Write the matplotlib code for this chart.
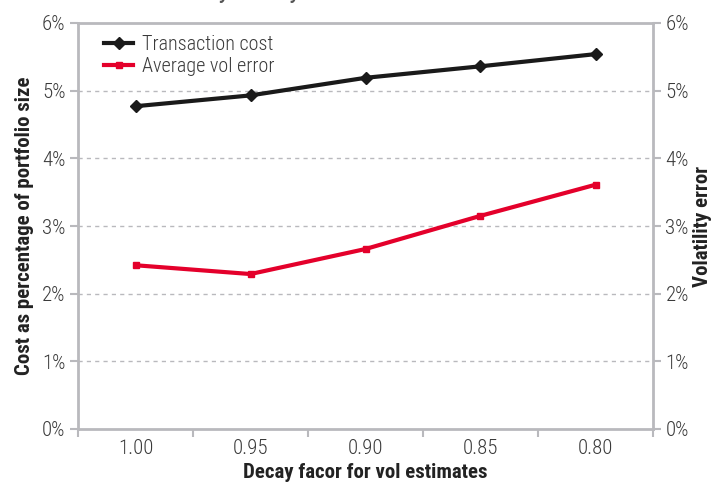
import matplotlib
matplotlib.use("Agg")
import matplotlib.pyplot as plt
from matplotlib.ticker import FixedLocator, PercentFormatter

plt.rcParams['font.family'] = ['Roboto Condensed', 'DejaVu Sans']

decay_labels = ["1.00", "0.95", "0.90", "0.85", "0.80"]
transaction_cost = [4.77, 4.93, 5.19, 5.36, 5.54]
avg_vol_error = [2.42, 2.29, 2.66, 3.15, 3.61]
y_ticks = [0, 1, 2, 3, 4, 5, 6]

grey = "#b9b9bd"
text_col = "#3a3a3a"
label_col = "#222222"

fig = plt.figure(figsize=(7.13, 4.82), dpi=100)
ax = fig.add_axes([78 / 713, 1 - 429 / 482, (653 - 78) / 713, (429 - 23) / 482])

x = list(range(len(decay_labels)))
ax.plot(x, transaction_cost, color="#1a1a1a", lw=3, marker="D", ms=6,
        label="Transaction cost", zorder=3)
ax.plot(x, avg_vol_error, color="#e4002b", lw=3, marker="s", ms=5,
        label="Average vol error", zorder=3)

ax.set_xlim(-0.5, len(decay_labels) - 0.5)
ax.set_ylim(0, 6)
ax.set_xticks(x)
ax.set_xticklabels(decay_labels)
ax.xaxis.set_minor_locator(FixedLocator([i - 0.5 for i in range(len(decay_labels) + 1)]))
ax.tick_params(axis="x", which="major", length=0, pad=7, labelsize=15, labelcolor=text_col)
ax.tick_params(axis="x", which="minor", length=6, width=1.5, color=grey)
for t in ax.get_xticklabels():
    t.set_fontweight("light")

ax.set_yticks(y_ticks)
ax.yaxis.set_major_formatter(PercentFormatter(decimals=0))
ax.tick_params(axis="y", length=6, width=1.5, color=grey, labelsize=15,
               labelcolor=text_col, pad=3)
for v in y_ticks[1:-1]:
    ax.axhline(v, color=grey, lw=1, ls=(0, (3, 3)), zorder=1)

for s in ax.spines.values():
    s.set_color(grey)
    s.set_linewidth(2)

ax2 = ax.twinx()
ax2.set_ylim(0, 6)
ax2.set_yticks(y_ticks)
ax2.yaxis.set_major_formatter(PercentFormatter(decimals=0))
ax2.tick_params(axis="y", length=6, width=1.5, color=grey, labelsize=15,
                labelcolor=text_col, pad=3)
for s in ax2.spines.values():
    s.set_visible(False)

for t in ax.get_yticklabels() + ax2.get_yticklabels():
    t.set_fontweight("light")

ax.set_xlabel("Decay facor for vol estimates", fontsize=15, fontweight="bold",
              color=label_col, labelpad=4)
ax.set_ylabel("Cost as percentage of portfolio size", fontsize=15,
              fontweight="bold", color=label_col, labelpad=6)
ax2.set_ylabel("Volatility error", fontsize=15, fontweight="bold",
               color=label_col, labelpad=3)

leg = ax.legend(loc="upper left", bbox_to_anchor=(0.025, 1.0), frameon=False,
                fontsize=14.5, handlelength=1.4, handletextpad=0.45,
                labelspacing=0.15, borderaxespad=0.2)
for t in leg.get_texts():
    t.set_color(text_col)
    t.set_fontweight("light")

fig.text(50 / 713, 1 + 3 / 482, "Cost vs volatility decay factor", fontsize=20,
         color="#555555", ha="left", va="baseline")

fig.savefig("out.png", dpi=100)
